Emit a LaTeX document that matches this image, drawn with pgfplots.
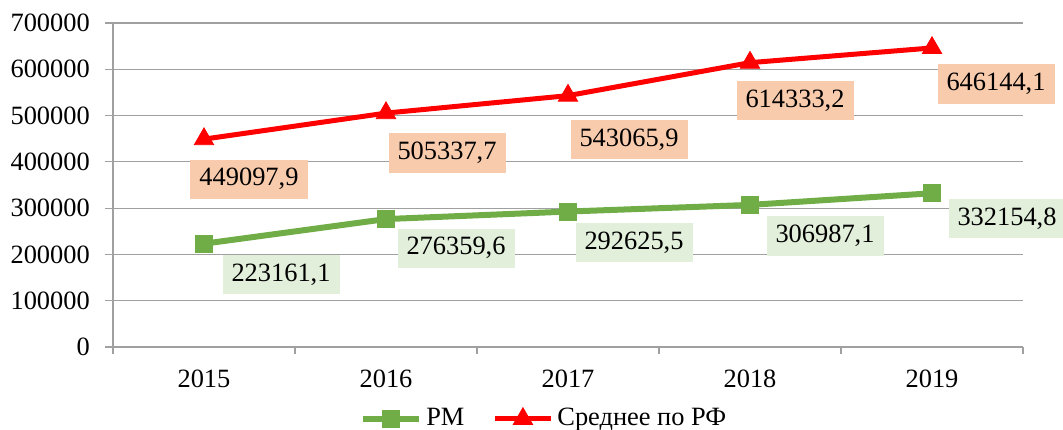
\documentclass[border=0pt]{standalone}
\usepackage{fontspec}
\setmainfont{Liberation Serif}
\usepackage{pgfplots}
\usepackage{pgfplotstable}
\pgfplotsset{compat=1.18}
\definecolor{gline}{HTML}{70AD47}
\definecolor{gbox}{HTML}{E2EFDA}
\definecolor{rline}{HTML}{FF0000}
\definecolor{rbox}{HTML}{F8CBAD}
\definecolor{gridc}{HTML}{A0A0A0}
\pgfplotstableread{
x y label dx dy
0 449097.9 449097,9 22.5 -20
1 505337.7 505337,7 30.5 -20
2 543065.9 543065,9 30.5 -22
3 614333.2 614333,2 22.5 -19
4 646144.1 646144,1 32 -18
}\tabRF
\pgfplotstableread{
x y label dx dy
0 223161.1 223161,1 38.5 -15.5
1 276359.6 276359,6 35 -14.5
2 292625.5 292625,5 33 -15.5
3 306987.1 306987,1 37.5 -15.5
4 332154.8 332154,8 37.5 -12.5
}\tabRM
\begin{document}
\fontsize{13.2}{15}\selectfont
\begin{tikzpicture}
\begin{axis}[
  name=ax,
  scale only axis,
  width=455pt, height=162pt,
  xmin=-0.5, xmax=4.5,
  ymin=0, ymax=700000,
  clip=false,
  axis x line*=bottom,
  axis y line*=left,
  axis line style={gridc, line width=0.6pt},
  xtick={0,1,2,3,4},
  xticklabels={2015,2016,2017,2018,2019},
  minor xtick={-0.5,0.5,1.5,2.5,3.5,4.5},
  ytick={0,100000,...,700000},
  major x tick style={draw=none},
  minor tick length=3.5pt,
  major tick length=4pt,
  tick align=outside,
  tick style={gridc, line width=0.6pt},
  ymajorgrids,
  major grid style={gridc, line width=0.6pt},
  scaled y ticks=false,
  /pgf/number format/fixed,
  /pgf/number format/1000 sep={},
  /pgf/number format/assume math mode=true,
  yticklabel style={xshift=-3pt},
  xticklabel style={yshift=-3pt},
  legend style={draw=none, fill=none, at={(0.475,-0.222)}, anchor=center,
    legend columns=2, /tikz/every even column/.append style={column sep=12pt},
    font=\fontsize{13.2}{15}\selectfont},
  legend image code/.code={\draw[mark repeat=2,mark phase=2] plot coordinates {(0pt,0pt) (14pt,0pt) (28pt,0pt)};},
  nodes near coords,
  point meta=explicit symbolic,
  visualization depends on={\thisrow{dx}\as\dx},
  visualization depends on={\thisrow{dy}\as\dy},
]
\addplot[gline, line width=3pt, mark=square*, mark size=4.3pt, mark options={solid, line width=0.4pt},
  nodes near coords style={anchor=center, xshift=\dx pt, yshift=\dy pt, fill=gbox, text=black,
    inner xsep=4.5pt, minimum height=19.5pt, font=\fontsize{13.2}{15}\selectfont}]
  table[x=x, y=y, meta=label]{\tabRM};
\addlegendentry{РМ}
\addplot[rline, line width=2.5pt, mark=triangle*, mark size=5.6pt, mark options={solid, line width=0.4pt},
  nodes near coords style={anchor=center, xshift=\dx pt, yshift=\dy pt, fill=rbox, text=black,
    inner xsep=4.5pt, minimum height=19.5pt, font=\fontsize{13.2}{15}\selectfont}]
  table[x=x, y=y, meta=label]{\tabRF};
\addlegendentry{Среднее по РФ}
\end{axis}
\pgfresetboundingbox
\path[use as bounding box] ([xshift=-56.5pt,yshift=-41.5pt]ax.south west) rectangle ([xshift=20pt,yshift=11.5pt]ax.north east);
\end{tikzpicture}
\end{document}
